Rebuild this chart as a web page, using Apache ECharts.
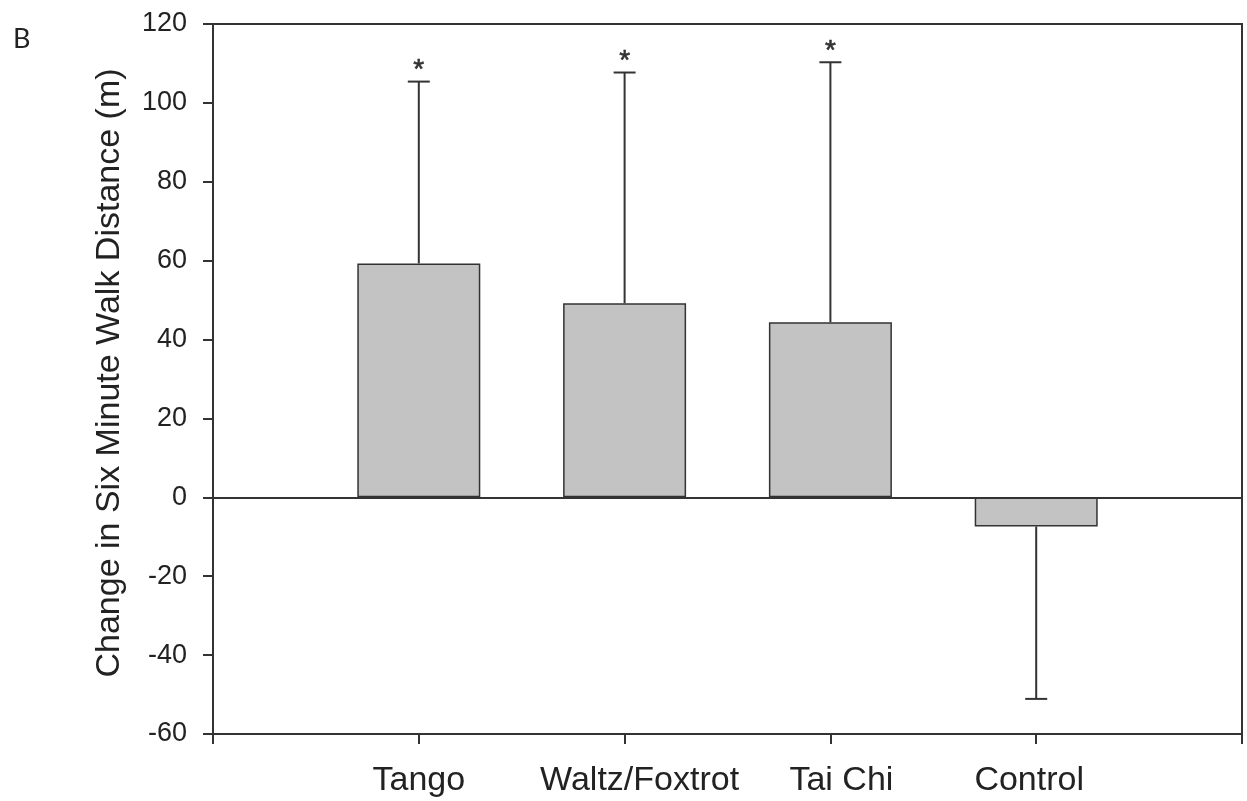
<!DOCTYPE html>
<html>
<head>
<meta charset="utf-8">
<script src="https://cdn.jsdelivr.net/npm/echarts@6/dist/echarts.min.js"></script>
<style>
html,body{margin:0;padding:0;background:#fff;}
#chart{width:1247px;height:801px;}
</style>
</head>
<body>
<div id="chart"></div>
<script>
// ---- data ----
var categories = ['Tango', 'Waltz/Foxtrot', 'Tai Chi', 'Control'];
var categoryPositions = [1, 2, 3, 4];
var meanChange = [59.3, 49.2, 44.4, -7.4];
var errorEnd = [105.4, 107.7, 110.3, -51.1];
var significance = ['*', '*', '*', ''];
var yTicks = { min: -60, max: 120, interval: 20 };
var yTitle = 'Change in Six Minute Walk Distance (m)';
var panelLetter = 'B';

var FONT = '"Liberation Sans", Arial, sans-serif';
var AX = '#333333';

// label style keys (layout nudges live in the rich styles below)
var labelStyleKeys = ['l0', 'l1', 'l2', 'l3'];

var barData = categoryPositions.map(function (p, i) { return [p, meanChange[i]]; });
var errData = categoryPositions.map(function (p, i) { return [p, meanChange[i], errorEnd[i], significance[i]]; });

var chart = echarts.init(document.getElementById('chart'), null, { renderer: 'canvas' });

function renderError(params, api) {
  var x = api.value(0);
  var p0 = api.coord([x, api.value(1)]);
  var p1 = api.coord([x, api.value(2)]);
  var star = errData[params.dataIndex][3];
  var half = 11;
  var children = [
    { type: 'line', shape: { x1: p0[0], y1: p0[1], x2: p1[0], y2: p1[1] }, style: { stroke: AX, lineWidth: 2 } },
    { type: 'line', shape: { x1: p1[0] - half, y1: p1[1], x2: p1[0] + half, y2: p1[1] }, style: { stroke: AX, lineWidth: 2 } }
  ];
  if (star) {
    children.push({
      type: 'text',
      style: { text: star, x: p1[0], y: p1[1] + 3, align: 'center', verticalAlign: 'bottom',
               font: '28px ' + FONT, fill: '#333', stroke: '#333', lineWidth: 0.6 }
    });
  }
  return { type: 'group', children: children };
}

var labelBase = { fontFamily: FONT, fontSize: 34, color: '#222' };
function rs(pad) { return Object.assign({ padding: pad }, labelBase); }

var option = {
  backgroundColor: '#ffffff',
  animation: false,
  graphic: [{
    type: 'text', left: 13, top: 26,
    style: { text: panelLetter, font: '27px Lato, "Open Sans", sans-serif', fill: '#222' }
  }],
  grid: {
    left: 213, right: 5, top: 24, bottom: 67,
    show: true, borderColor: AX, borderWidth: 2, backgroundColor: 'transparent'
  },
  xAxis: {
    type: 'value', min: 0, max: 5, interval: 1,
    splitLine: { show: false },
    axisLine: { show: true, onZero: false, lineStyle: { color: AX, width: 2 } },
    axisTick: { show: true, inside: false, length: 10, lineStyle: { color: AX, width: 2 } },
    axisLabel: {
      margin: 30, fontFamily: FONT, fontSize: 34, color: '#222',
      formatter: function (v) {
        var i = categoryPositions.indexOf(v);
        return i >= 0 ? '{' + labelStyleKeys[i] + '|' + categories[i] + '}' : '';
      },
      rich: {
        l0: rs([0, 0, 0, 0]),
        l1: rs([0, 0, 0, 30]),
        l2: rs([0, 0, 0, 22]),
        l3: rs([0, 14, 0, 0])
      }
    }
  },
  yAxis: {
    type: 'value', min: yTicks.min, max: yTicks.max, interval: yTicks.interval,
    splitLine: { show: false },
    axisLine: { show: true, onZero: false, lineStyle: { color: AX, width: 2 } },
    axisTick: { show: true, inside: false, length: 10, lineStyle: { color: AX, width: 2 } },
    axisLabel: { margin: 26, fontFamily: FONT, fontSize: 27, color: '#222' },
    name: yTitle, nameLocation: 'middle', nameGap: 86, nameRotate: 90,
    nameTextStyle: { fontFamily: FONT, fontSize: 34, color: '#222', padding: [0, 0, 0, 12] }
  },
  series: [
    {
      type: 'bar', data: barData, barWidth: 123,
      itemStyle: { color: '#c3c3c3', borderColor: '#333333', borderWidth: 1.5 },
      markLine: {
        silent: true, symbol: ['none', 'none'], label: { show: false },
        lineStyle: { color: AX, width: 2, type: 'solid' },
        data: [{ yAxis: 0 }]
      },
      z: 2
    },
    {
      type: 'custom', renderItem: renderError, data: errData,
      encode: { x: 0, y: [1, 2] }, z: 3
    }
  ]
};
chart.setOption(option);
</script>
</body>
</html>
